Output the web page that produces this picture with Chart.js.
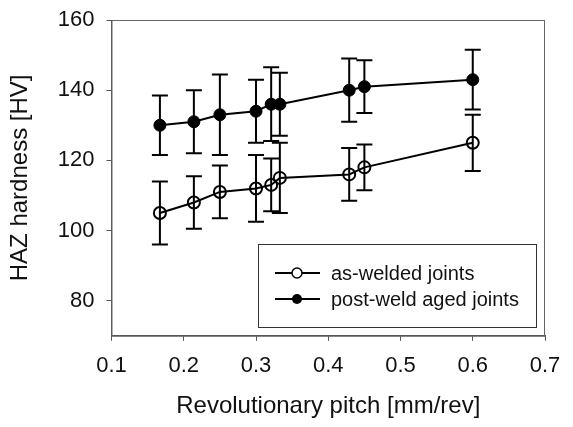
<html>
<head>
    <title>HAZ hardness vs revolutionary pitch</title>
    <script src="https://cdn.jsdelivr.net/npm/chart.js"></script>
    <style>
        body { margin: 0; background: white; }
        #wrap { width: 573px; height: 427px; }
    </style>
</head>
<body>
    <div id="wrap"><canvas id="hardChart" width="573" height="427"></canvas></div>
    <script>
        // values
        const pitch = [0.167, 0.214, 0.25, 0.3, 0.321, 0.333, 0.429, 0.45, 0.6];
        const asWelded = [105, 108, 111, 112, 113, 115, 116, 118, 125];
        const asWeldedErr = [9, 7.5, 7.5, 9.5, 7.5, 10, 7.5, 6.5, 8];
        const aged = [130, 131, 133, 134, 136, 136, 140, 141, 143];
        const agedErr = [8.5, 9, 11.5, 9, 10.5, 9, 9, 7.5, 8.5];
        const xTicks = [0.1, 0.2, 0.3, 0.4, 0.5, 0.6, 0.7];
        const yTicks = [80, 100, 120, 140, 160];
        const seriesNames = ['as-welded joints', 'post-weld aged joints'];

        const FONT = "'Liberation Sans', Arial, sans-serif";

        function toPoints(ys) {
            return pitch.map((x, i) => ({ x: x, y: ys[i] }));
        }

        // error bars, drawn under the markers
        const errorBars = {
            id: 'errorBars',
            beforeDatasetsDraw(chart) {
                const ctx = chart.ctx;
                const xs = chart.scales.x, ys = chart.scales.y;
                const errs = [asWeldedErr, agedErr];
                ctx.save();
                ctx.strokeStyle = '#000';
                ctx.lineWidth = 2;
                chart.data.datasets.forEach((ds, d) => {
                    ds.data.forEach((p, i) => {
                        const px = xs.getPixelForValue(p.x);
                        const top = ys.getPixelForValue(p.y + errs[d][i]);
                        const bot = ys.getPixelForValue(p.y - errs[d][i]);
                        ctx.beginPath();
                        ctx.moveTo(px, top); ctx.lineTo(px, bot);
                        ctx.moveTo(px - 8, top); ctx.lineTo(px + 8, top);
                        ctx.moveTo(px - 8, bot); ctx.lineTo(px + 8, bot);
                        ctx.stroke();
                    });
                });
                ctx.restore();
            }
        };

        // frame around the plot area and boxed legend inside it
        const frameLegend = {
            id: 'frameLegend',
            afterDraw(chart) {
                const ctx = chart.ctx;
                const a = chart.chartArea;
                ctx.save();
                ctx.strokeStyle = '#666';
                ctx.lineWidth = 1;
                ctx.strokeRect(a.left + 0.5, a.top + 0.5, a.right - a.left - 1, a.bottom - a.top);

                ctx.strokeStyle = '#333';
                ctx.strokeRect(258.5, 244.5, 278, 83);

                chart.data.datasets.forEach((ds, d) => {
                    const y = 273 + d * 26;
                    ctx.strokeStyle = '#000';
                    ctx.lineWidth = 2;
                    ctx.beginPath();
                    ctx.moveTo(275, y); ctx.lineTo(320, y);
                    ctx.stroke();
                    ctx.beginPath();
                    ctx.arc(297, y, 5, 0, Math.PI * 2);
                    if (d === 1) { ctx.fillStyle = '#000'; ctx.fill(); }
                    else { ctx.fillStyle = '#fff'; ctx.fill(); ctx.lineWidth = 1.5; ctx.stroke(); }
                    ctx.fillStyle = '#111';
                    ctx.font = '20px ' + FONT;
                    ctx.textBaseline = 'middle';
                    ctx.fillText(ds.label, 331, y + 1);
                });
                ctx.restore();
            }
        };

        const ctx = document.getElementById('hardChart').getContext('2d');
        const hardChart = new Chart(ctx, {
            type: 'line',
            data: {
                datasets: [{
                    label: seriesNames[0],
                    data: toPoints(asWelded),
                    borderColor: '#000',
                    borderWidth: 2,
                    pointRadius: 6,
                    pointBorderWidth: 2,
                    pointBackgroundColor: 'rgba(0,0,0,0)',
                    pointBorderColor: '#000',
                    tension: 0
                }, {
                    label: seriesNames[1],
                    data: toPoints(aged),
                    borderColor: '#000',
                    borderWidth: 2,
                    pointRadius: 6,
                    pointBorderWidth: 1,
                    pointBackgroundColor: '#000',
                    pointBorderColor: '#000',
                    tension: 0
                }]
            },
            options: {
                responsive: false,
                animation: false,
                layout: { padding: { top: 20, right: 28, left: 6, bottom: 6 } },
                plugins: {
                    legend: { display: false },
                    tooltip: { enabled: false }
                },
                scales: {
                    x: {
                        type: 'linear',
                        min: 0.1,
                        max: 0.7,
                        afterBuildTicks: axis => { axis.ticks = xTicks.map(v => ({ value: v })); },
                        grid: { drawOnChartArea: false, drawTicks: true, tickLength: 5, color: '#555' },
                        border: { color: '#555', width: 1 },
                        ticks: {
                            color: '#111',
                            font: { family: FONT, size: 22 },
                            padding: 12,
                            maxRotation: 0,
                            callback: v => v.toFixed(1)
                        },
                        title: {
                            display: true,
                            text: 'Revolutionary pitch [mm/rev]',
                            color: '#111',
                            font: { family: FONT, size: 24 },
                            padding: { top: 1, bottom: 0 }
                        }
                    },
                    y: {
                        min: 70,
                        max: 160,
                        afterBuildTicks: axis => { axis.ticks = yTicks.map(v => ({ value: v })); },
                        afterFit: axis => { axis.paddingTop = 0; },
                        grid: { drawOnChartArea: false, drawTicks: true, tickLength: 5, color: '#555' },
                        border: { color: '#555', width: 1 },
                        ticks: {
                            color: '#111',
                            font: { family: FONT, size: 22 },
                            padding: 12
                        },
                        title: {
                            display: true,
                            text: 'HAZ hardness [HV]',
                            color: '#111',
                            font: { family: FONT, size: 24 },
                            padding: { top: 0, bottom: 11 }
                        }
                    }
                }
            },
            plugins: [errorBars, frameLegend]
        });
    </script>
</body>
</html>
